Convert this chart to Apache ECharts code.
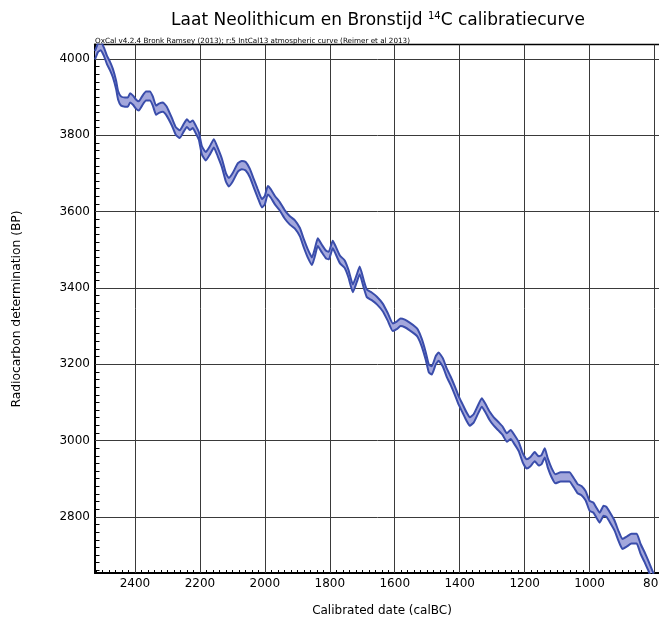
<!DOCTYPE html>
<html><head><meta charset="utf-8">
<script src="https://cdn.jsdelivr.net/npm/echarts@6/dist/echarts.min.js"></script>
<style>html,body{margin:0;padding:0;background:#fff}#c{width:659px;height:619px}</style>
</head><body><div id="c"></div>
<script>
// Calibrated date (calBC)
const years = [2523,2514,2505,2495,2486,2477,2468,2458,2452,2443,2431,2422,2415,2406,2397,2388,2378,2366,2354,2345,2335,2326,2314,2302,2286,2274,2262,2249,2240,2231,2222,2212,2203,2194,2182,2169,2157,2145,2132,2120,2111,2099,2083,2071,2059,2046,2034,2022,2009,2000,1991,1982,1969,1954,1939,1923,1908,1892,1880,1868,1855,1846,1837,1825,1812,1803,1791,1782,1769,1754,1742,1729,1717,1708,1695,1686,1671,1655,1637,1622,1606,1594,1582,1569,1554,1538,1529,1517,1505,1495,1486,1474,1465,1452,1440,1428,1415,1403,1391,1379,1369,1357,1345,1332,1320,1308,1295,1280,1268,1255,1243,1231,1218,1206,1194,1182,1169,1157,1148,1138,1129,1117,1105,1089,1074,1062,1049,1037,1025,1012,1000,988,979,969,957,948,935,923,911,899,886,871,855,843,831,819,809,803];
// upper edge of the 14C band (BP)
const upperBP = [4021,4040,4045,4029,4008,3993,3974,3943,3916,3902,3899,3899,3910,3904,3894,3889,3902,3915,3915,3902,3878,3883,3886,3875,3845,3821,3813,3831,3842,3834,3839,3824,3808,3772,3756,3772,3790,3767,3738,3701,3688,3701,3727,3733,3730,3712,3685,3659,3633,3641,3667,3659,3641,3625,3604,3588,3578,3557,3528,3502,3480,3503,3530,3514,3498,3495,3524,3509,3485,3472,3446,3409,3435,3456,3419,3396,3388,3377,3359,3335,3307,3312,3320,3317,3309,3299,3291,3267,3233,3199,3195,3221,3231,3216,3189,3168,3142,3116,3095,3074,3061,3069,3090,3111,3095,3076,3061,3048,3037,3019,3028,3014,2996,2967,2951,2957,2970,2959,2962,2980,2954,2928,2912,2917,2917,2917,2902,2886,2881,2867,2842,2837,2824,2811,2829,2826,2808,2790,2763,2742,2748,2756,2756,2729,2708,2685,2664,2651];
// lower edge of the 14C band (BP)
const lowerBP = [3999,4018,4023,4007,3986,3971,3952,3921,3894,3878,3875,3875,3886,3880,3870,3865,3878,3891,3891,3878,3854,3859,3862,3851,3825,3801,3793,3811,3822,3814,3819,3804,3788,3750,3734,3750,3768,3745,3716,3679,3666,3679,3705,3711,3708,3690,3663,3637,3611,3619,3645,3637,3619,3603,3582,3566,3556,3535,3506,3480,3460,3483,3510,3494,3478,3475,3504,3489,3465,3452,3426,3389,3415,3436,3399,3376,3368,3357,3339,3315,3287,3292,3300,3297,3289,3279,3271,3247,3213,3179,3173,3199,3209,3194,3167,3146,3120,3094,3073,3052,3039,3047,3068,3089,3073,3054,3039,3026,3015,2997,3004,2990,2972,2943,2927,2933,2946,2935,2938,2956,2930,2904,2888,2893,2893,2893,2878,2862,2857,2843,2816,2811,2798,2785,2803,2800,2782,2764,2737,2716,2722,2730,2730,2703,2682,2659,2638,2625];

const xMajorTicks = [2400,2200,2000,1800,1600,1400,1200,1000,800];
const yMajorTicks = [2800,3000,3200,3400,3600,3800,4000];
const xMinorTicks = []; for (let v = 2520; v >= 620; v -= 20) xMinorTicks.push(v);
const yMinorTicks = []; for (let v = 2660; v <= 4020; v += 20) yMinorTicks.push(v);

const titleMain1 = 'Laat Neolithicum en Bronstijd ';
const titleSup = '14';
const titleMain2 = 'C calibratiecurve';
const subTitle = 'OxCal v4.2.4 Bronk Ramsey (2013); r:5 IntCal13 atmospheric curve (Reimer et al 2013)';
const xName = 'Calibrated date (calBC)';
const yName = 'Radiocarbon determination (BP)';

const FONT = 'DejaVu Sans';
const LINE = '#3a4dab';
const FILL = '#a3a7dc';
const GRIDC = '#3a3a3a';

const upperData = years.map((y, i) => [y, upperBP[i]]);
const lowerData = years.map((y, i) => [y, lowerBP[i]]);

const chart = echarts.init(document.getElementById('c'), null, {renderer: 'canvas'});
chart.setOption({
  animation: false,
  textStyle: {fontFamily: FONT},
  grid: {left: 95, right: -60.5, top: 44.5, bottom: 46, show: true, borderColor: '#000', borderWidth: 1.5, outerBoundsMode: 'none', containLabel: false},
  xAxis: {
    type: 'value', min: 600, max: 2523, inverse: true,
    axisLine: {show: true, onZero: false, lineStyle: {color: '#000', width: 2}},
    axisTick: {show: true, inside: true, length: 3, customValues: xMinorTicks, lineStyle: {color: '#000', width: 1}},
    axisLabel: {show: true, customValues: xMajorTicks, margin: 5, fontSize: 12, fontFamily: FONT, color: '#000', formatter: v => String(v)},
    splitLine: {show: false}
  },
  yAxis: {
    type: 'value', min: 2653, max: 4038,
    axisLine: {show: true, onZero: false, lineStyle: {color: '#000', width: 2}},
    axisTick: {show: true, inside: true, length: 4.5, customValues: yMinorTicks, lineStyle: {color: '#000', width: 1}},
    axisLabel: {show: true, customValues: yMajorTicks, margin: 5, fontSize: 12, fontFamily: FONT, color: '#000', formatter: v => String(v)},
    splitLine: {show: false}
  },
  series: [
    {
      type: 'custom', name: 'band', coordinateSystem: 'cartesian2d', clip: true, silent: true, z: 2,
      data: [[years[0], upperBP[0]]],
      renderItem: function (params, api) {
        const pts = [];
        for (let i = 0; i < years.length; i++) pts.push(api.coord([years[i], upperBP[i]]));
        for (let i = years.length - 1; i >= 0; i--) pts.push(api.coord([years[i], lowerBP[i]]));
        return {type: 'polygon', shape: {points: pts, smooth: 0}, style: {fill: FILL, stroke: null}};
      }
    },
    {
      type: 'line', name: 'upper', data: upperData, symbol: 'none', smooth: 0.15,
      lineStyle: {color: LINE, width: 2}, z: 4, silent: true,
      markLine: {
        silent: true, symbol: ['none', 'none'], z: 1, animation: false,
        label: {show: false},
        lineStyle: {color: GRIDC, width: 1, type: 'solid'},
        emphasis: {disabled: true},
        data: xMajorTicks.map(v => ({xAxis: v})).concat(yMajorTicks.map(v => ({yAxis: v})))
      }
    },
    {
      type: 'line', name: 'lower', data: lowerData, symbol: 'none', smooth: 0.15,
      lineStyle: {color: LINE, width: 2}, z: 4, silent: true
    }
  ],
  graphic: [
    {type: 'text', x: 378, y: 21, silent: true, style: {
      text: '{a|' + titleMain1 + '}{s|' + titleSup + '}{a|' + titleMain2 + '}',
      rich: {
        a: {fontSize: 17, fontFamily: FONT, fill: '#000', lineHeight: 20},
        s: {fontSize: 10, fontFamily: FONT, fill: '#000', lineHeight: 12, verticalAlign: 'top'}
      },
      align: 'center', verticalAlign: 'middle', textAlign: 'center', textVerticalAlign: 'middle'
    }},
    {type: 'text', x: 95, y: 41, silent: true, style: {
      text: subTitle, font: '7.2px "DejaVu Sans"', fill: '#000',
      align: 'left', verticalAlign: 'middle', textAlign: 'left', textVerticalAlign: 'middle'
    }},
    {type: 'text', x: 382, y: 611, silent: true, style: {
      text: xName, font: '12px "DejaVu Sans"', fill: '#000',
      align: 'center', verticalAlign: 'middle', textAlign: 'center', textVerticalAlign: 'middle'
    }},
    {type: 'text', x: 17, y: 309, rotation: Math.PI / 2, silent: true, style: {
      text: yName, font: '12.3px "DejaVu Sans"', fill: '#000',
      align: 'center', verticalAlign: 'middle', textAlign: 'center', textVerticalAlign: 'middle'
    }}
  ]
});
</script>
</body></html>
